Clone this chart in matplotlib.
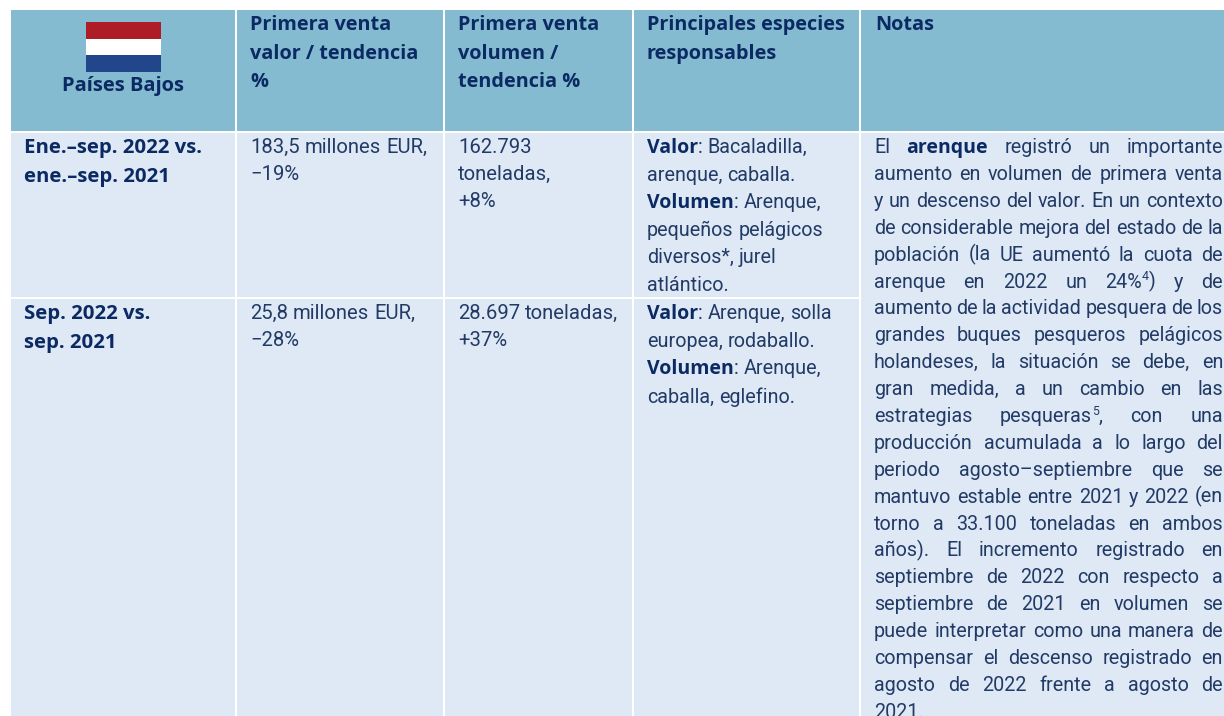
import matplotlib
matplotlib.use("Agg")
import matplotlib.pyplot as plt
from matplotlib.patches import Rectangle

# ---- content ----
country = "Países Bajos"
headers = [["Primera venta", "valor / tendencia", "%"],
           ["Primera venta", "volumen /", "tendencia %"],
           ["Principales especies", "responsables"],
           ["Notas"]]
periods = [["Ene.–sep. 2022 vs.", "ene.–sep. 2021"], ["Sep. 2022 vs.", "sep. 2021"]]
value_cells = [["183,5 millones EUR,", "−19%"], ["25,8 millones EUR,", "−28%"]]
volume_cells = [["162.793", "toneladas,", "+8%"], ["28.697 toneladas,", "+37%"]]
species_1 = [[("Valor", "b"), (": Bacaladilla,", "")], [("arenque, caballa.", "")],
             [("Volumen", "b"), (": Arenque,", "")], [("pequeños pelágicos", "")],
             [("diversos*, jurel", "")], [("atlántico.", "")]]
species_2 = [[("Valor", "b"), (": Arenque, solla", "")], [("europea, rodaballo.", "")],
             [("Volumen", "b"), (": Arenque,", "")], [("caballa, eglefino.", "")]]
notes = [
    [("El", ""), ("arenque", "b"), ("registró un importante", "")],
    [("aumento en volumen de primera venta", "")],
    [("y un descenso del valor. En un contexto", "")],
    [("de considerable mejora del estado de la", "")],
    [("población (la UE aumentó la cuota de", "")],
    [("arenque en 2022 un 24%", ""), ("4", "s"), (") y de", "")],
    [("aumento de la actividad pesquera de los", "")],
    [("grandes buques pesqueros pelágicos", "")],
    [("holandeses, la situación se debe, en", "")],
    [("gran medida, a un cambio en las", "")],
    [("estrategias pesqueras", ""), ("5", "s"), (", con una", "")],
    [("producción acumulada a lo largo del", "")],
    [("periodo agosto–septiembre que se", "")],
    [("mantuvo estable entre 2021 y 2022 (en", "")],
    [("torno a 33.100 toneladas en ambos", "")],
    [("años). El incremento registrado en", "")],
    [("septiembre de 2022 con respecto a", "")],
    [("septiembre de 2021 en volumen se", "")],
    [("puede interpretar como una manera de", "")],
    [("compensar el descenso registrado en", "")],
    [("agosto de 2022 frente a agosto de", "")],
    [("2021.", "")],
]
flag_colors = ["#AE1C28", "#FFFFFF", "#21468B"]

# ---- style and layout ----
HEAD_BG, BODY_BG = "#84BBD0", "#DEE9F5"
NAVY, BODY = "#0B2A63", "#223A66"
FONT = "Roboto"
BFONT = "Open Sans"
FS = 14.2
FS_NUM = 14.6
FSB = 14.0
FSH = 14.3
FSP = 14.7
FSC = 14.5
col_x = [11, 236, 444, 633, 860, 1224]
top, head_bot, row_bot, bottom = 10, 131.5, 297.5, 716

fig = plt.figure(figsize=(12.24, 7.16), dpi=100, facecolor="white")
ax = fig.add_axes([0, 0, 1, 1])
ax.set_xlim(0, 1224)
ax.set_ylim(716, 0)
ax.axis("off")
rend = fig.canvas.get_renderer()
GAP = 2


def box(x0, y0, x1, y1, c):
    ax.add_patch(Rectangle((x0, y0), x1 - x0, y1 - y0, fc=c, ec="none"))


for i in range(5):
    x0, x1 = col_x[i] + (GAP / 2 if i else 0), col_x[i + 1] - (GAP / 2 if i < 4 else 0)
    box(x0, top, x1, head_bot - 1, HEAD_BG)
    if i < 4:
        box(x0, head_bot + 1, x1, row_bot - 1, BODY_BG)
        box(x0, row_bot + 1, x1, bottom, BODY_BG)
    else:
        box(x0, head_bot + 1, x1, bottom, BODY_BG)

for k, c in enumerate(flag_colors):
    box(86, 22 + k * 16.7, 161, 22 + (k + 1) * 16.7, c)


def style(kind, size):
    if kind == "b":
        return dict(family=BFONT, fontweight="bold", fontsize=FSB * size / FS)
    if kind == "s":
        return dict(family=FONT, fontweight="normal", fontsize=size * 0.62)
    return dict(family=FONT, fontweight="normal", fontsize=size)


def width(s, kind, size):
    t = ax.text(0, 0, s, **style(kind, size))
    w = t.get_window_extent(rend).width
    t.remove()
    return w


def draw_line(runs, x, y, color=BODY, size=FS, justify_to=None):
    tokens = []
    for idx, (run, kind) in enumerate(runs):
        for j, w in enumerate(run.split(" ")):
            tokens.append((w, kind, j > 0))
    if runs[0][0] == "El":
        tokens = [(w, k, n > 0) for n, (w, k, _) in enumerate(tokens)]
    wd = [width(w, k, size) for w, k, _ in tokens]
    nsp = sum(1 for t in tokens if t[2])
    space = width("a a", "", size) - width("aa", "", size)
    if justify_to is not None and nsp:
        space = (justify_to - x - sum(wd)) / nsp
    cx = x
    for (w, k, sp), ww in zip(tokens, wd):
        if sp:
            cx += space
        ax.text(cx, y - (7 if k == "s" else 0), w, color=NAVY if k == "b" else color,
                va="baseline", **style(k, size))
        cx += ww


def bold_lines(lines, x, y0, step, size=FSH):
    for n, s in enumerate(lines):
        ax.text(x, y0 + n * step, s, family=BFONT, fontweight="bold", fontsize=size, color=NAVY, va="baseline")


ax.text(123.5, 90.5, country, family=BFONT, fontweight="bold", fontsize=FSC, color=NAVY, ha="center", va="baseline")
for i, h in enumerate(headers):
    bold_lines(h, [250, 458, 647, 875][i], 30, 28.7)

bold_lines(periods[0], 24, 153, 29, size=FSP)
bold_lines(periods[1], 24, 319, 29, size=FSP)

for col, cells in ((250, value_cells), (458, volume_cells)):
    for cell, y0 in zip(cells, (153, 319)):
        for n, s in enumerate(cell):
            draw_line([(s, "")], col, y0 + n * 27, size=FS_NUM)

for lines, ys in ((species_1, (153, 181, 208, 236, 263, 291)), (species_2, (319, 347, 374, 403))):
    for runs, y in zip(lines, ys):
        draw_line(runs, 647, y)

for n, runs in enumerate(notes):
    draw_line(runs, 874, 153 + n * 26.9, justify_to=None if n == len(notes) - 1 else 1223)

fig.savefig("out.png", dpi=100)
